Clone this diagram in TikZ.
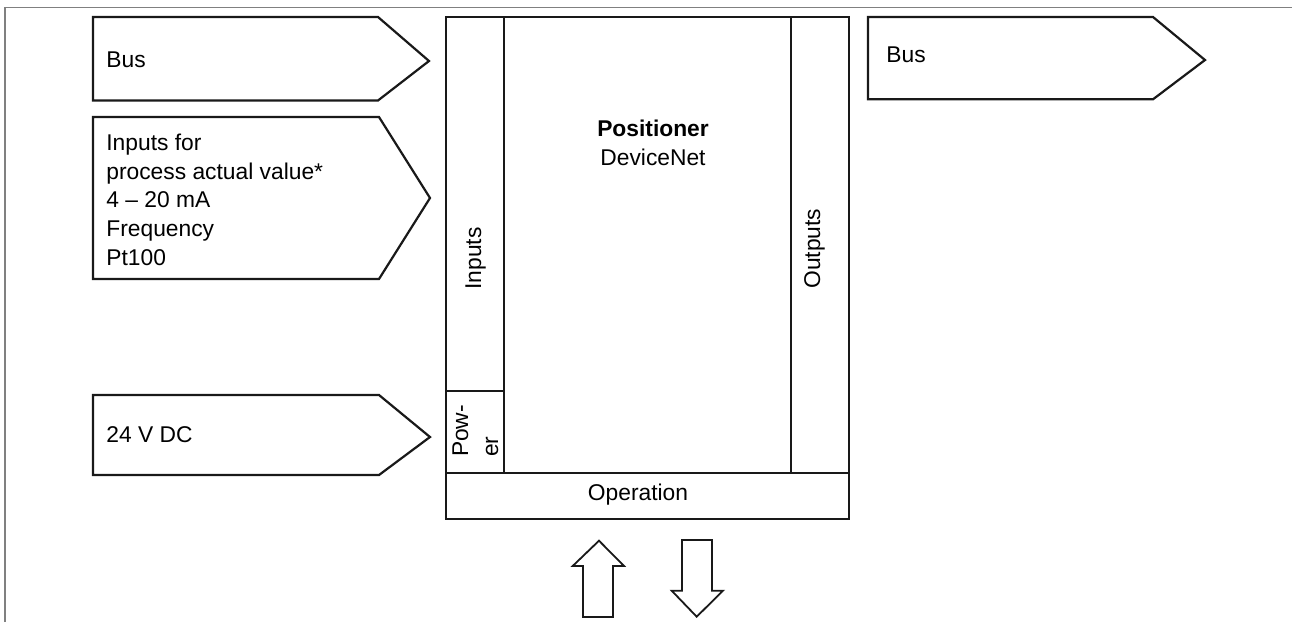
\documentclass[tikz,border=0pt]{standalone}
\usepackage{fontspec}
\setmainfont{Liberation Sans}
\definecolor{framegray}{HTML}{808080}
\begin{document}
\begin{tikzpicture}[x=0.5pt,y=-0.5pt,
  txt/.style={inner sep=0pt, font=\fontsize{11.4pt}{14.3pt}\selectfont},
  boxline/.style={line width=1.1pt, black!90, line join=miter},
  frameline/.style={line width=0.6pt, framegray},
  bigarrow/.style={line width=0.9pt, black!90, line join=miter}]
\useasboundingbox (0,0) rectangle (1292,622);
% frame
\draw[frameline] (5,622) -- (5,7.5) -- (1292,7.5);
% left arrows
\draw[boxline] (93,17) -- (378,17) -- (429,61) -- (378,100.5) -- (93,100.5) -- cycle;
\node[txt, anchor=base west] (busL) at (106,67) {Bus};
\draw[boxline] (93,117) -- (379,117) -- (430,198) -- (379,279) -- (93,279) -- cycle;
\node[txt, anchor=base west] (inputsL) at (106,150.7) {\vtop{\baselineskip=14.3pt
  \hbox{Inputs for}\hbox{process actual value*}\hbox{4 -- 20 mA}\hbox{Frequency}\hbox{Pt100}}};
\draw[boxline] (93,395) -- (379,395) -- (430,437) -- (379,475) -- (93,475) -- cycle;
\node[txt, anchor=base west] (dc) at (106,442.3) {24 V DC};
% right arrow
\draw[boxline] (868,17) -- (1153,17) -- (1205,60) -- (1153,99.3) -- (868,99.3) -- cycle;
\node[txt, anchor=base west] (busR) at (886,62.7) {Bus};
% main box
\draw[boxline] (446,17) rectangle (849,519);
\draw[boxline] (446,472.7) -- (849,472.7);
\draw[boxline] (504,17) -- (504,472.7);
\draw[boxline] (791,17) -- (791,472.7);
\draw[boxline] (446,390.7) -- (504,390.7);
\node[txt, anchor=base, font=\fontsize{11.4pt}{14.3pt}\selectfont\bfseries] (pos) at (653,136) {Positioner};
\node[txt, anchor=base] (dnet) at (653,165) {DeviceNet};
\node[txt, anchor=base] (op) at (638,500) {Operation};
\node[txt, rotate=90, anchor=base west] (inp) at (481,290) {Inputs};
\node[txt, rotate=90, anchor=base west] (outp) at (820,289) {Outputs};
\node[txt, rotate=90, anchor=base west] (pow) at (468,457.3) {\vtop{\baselineskip=15pt\hbox{Pow-}\hbox{er}}};
% operation arrows
\draw[bigarrow] (599,540.7) -- (624,566) -- (613,566) -- (613,617) -- (583,617) -- (583,566) -- (572.7,566) -- cycle;
\draw[bigarrow] (682,540) -- (712,540) -- (712,590.7) -- (723,590.7) -- (696.7,616.7) -- (671.7,590.7) -- (682,590.7) -- cycle;
\end{tikzpicture}
\end{document}
